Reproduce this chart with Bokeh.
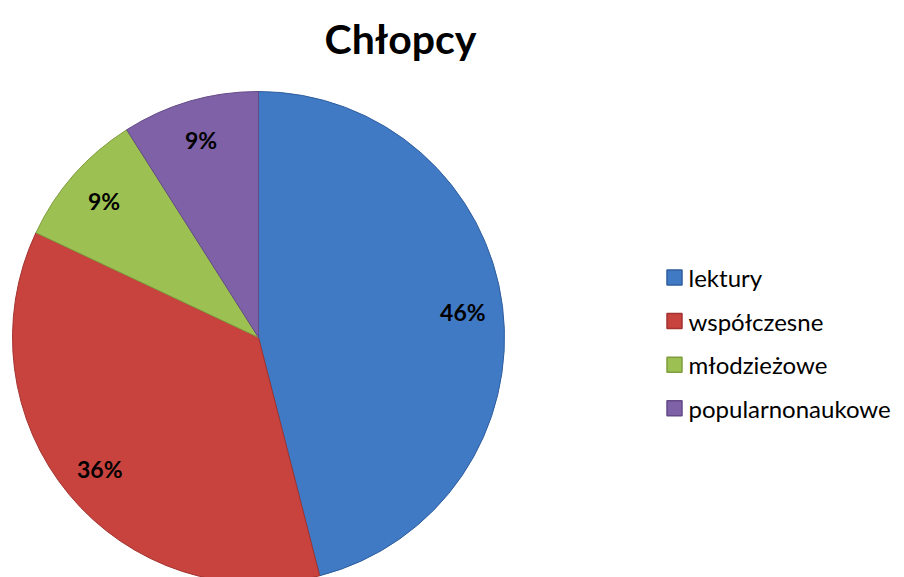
import math
from bokeh.plotting import figure
from bokeh.models import Range1d, ColumnDataSource
from bokeh.core.properties import value
from bokeh.embed import file_html
from bokeh.resources import INLINE

# ---- data ----
title_text = "Chłopcy"
categories = ["lektury", "współczesne", "młodzieżowe", "popularnonaukowe"]
values = [46, 36, 9, 9]
colors = ["#4079c4", "#c9433e", "#9dc052", "#7f61a8"]
edge_colors = ["#2f5e9e", "#a23330", "#7f9d3f", "#634a86"]

# ---- layout (data: x = page_x - 8, y = 577 - page_y) ----
W, H = 904, 577
CX, CY, R = 250, 240, 246
LABEL_R = 206

total = sum(values)
starts, ends, lx, ly, texts = [], [], [], [], []
cum = 0
for v in values:
    s = 90 - cum / total * 360
    cum += v
    e = 90 - cum / total * 360
    m = math.radians((s + e) / 2)
    starts.append(s)
    ends.append(e)
    lx.append(CX + LABEL_R * math.cos(m))
    ly.append(CY + LABEL_R * math.sin(m))
    texts.append(f"{round(v / total * 100)}%")

src = ColumnDataSource(dict(start=starts, end=ends, color=colors, edge=edge_colors,
                            lx=lx, ly=ly, txt=texts, cat=categories))

p = figure(width=W, height=H, x_range=Range1d(-8, W - 8), y_range=Range1d(0, H),
           output_backend="svg", toolbar_location=None,
           x_axis_location=None, y_axis_location=None,
           min_border=0, outline_line_color=None)
p.grid.visible = False
p.background_fill_color = "white"
p.border_fill_color = "white"

p.wedge(x=CX, y=CY, radius=R, start_angle="start", end_angle="end",
        start_angle_units="deg", end_angle_units="deg", direction="clock",
        fill_color="color", line_color="edge", line_width=1, source=src)

p.text(x="lx", y="ly", text="txt", source=src, text_align="center",
       text_baseline="middle", text_font=value("Lato"), text_font_style="bold",
       text_font_size="23px", text_color="black")

# title
p.text(x=[392], y=[539], text=[title_text], text_align="center",
       text_baseline="alphabetic", text_font=value("Lato"),
       text_font_style="bold", text_font_size="41px", text_color="black")

# legend
LEG_X, LEG_Y0, LEG_DY, SQ = 666, 300, 43.6, 15
leg_y = [LEG_Y0 - i * LEG_DY for i in range(len(categories))]
leg = ColumnDataSource(dict(x=[LEG_X] * len(categories), y=leg_y,
                            tx=[LEG_X + 14] * len(categories),
                            cat=categories, color=colors, edge=edge_colors))
p.rect(x="x", y="y", width=SQ, height=SQ, fill_color="color",
       line_color="edge", line_width=1.5, source=leg)
p.text(x="tx", y="y", text="cat", source=leg, text_align="left",
       text_baseline="middle", text_font=value("Lato"),
       text_font_size="24px", text_color="black")

open("out.html", "w").write(file_html(p, INLINE))
